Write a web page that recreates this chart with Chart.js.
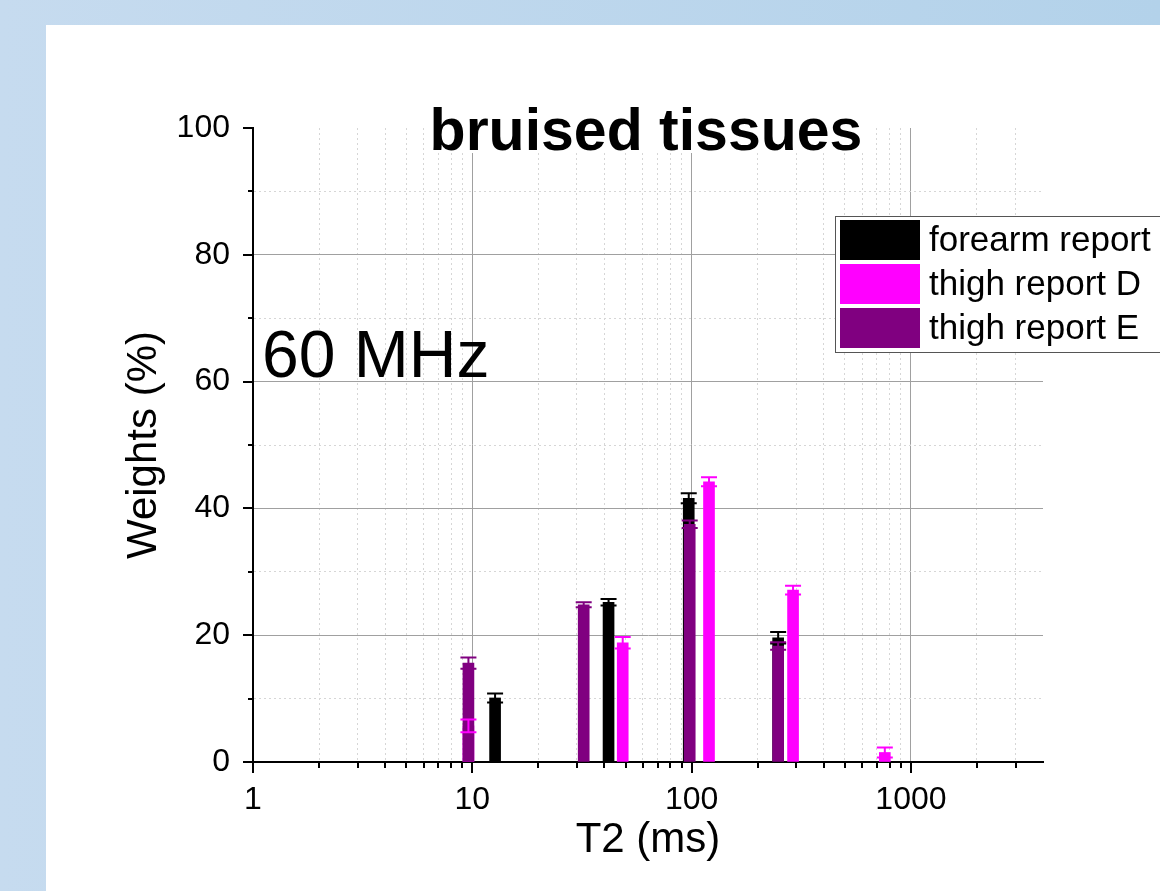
<!DOCTYPE html>
<html><head><meta charset="utf-8">
<script src="https://cdn.jsdelivr.net/npm/chart.js@4.4.1/dist/chart.umd.min.js"></script>
<style>html,body{margin:0;padding:0;background:#fff;overflow:hidden}canvas{display:block}</style>
</head><body>
<canvas id="c" width="1160" height="891" style="width:1160px;height:891px"></canvas>
<script>
const chartTitle = 'bruised tissues';
const annotationText = '60 MHz';
const xAxisTitle = 'T2 (ms)';
const yAxisTitle = 'Weights (%)';
const seriesNames = ['forearm report', 'thigh report D', 'thigh report E'];
const seriesColors = ['#000000', '#ff00ff', '#800080'];

const forearmT2 = [12.7, 41.8, 97, 248];
const forearmWeight = [10.1, 25.2, 41.6, 19.6];
const forearmErr = [0.7, 0.5, 0.8, 0.9];

const thighDT2 = [9.6, 48.5, 120, 290, 760];
const thighDWeight = [5.7, 18.8, 44.2, 27.1, 1.5];
const thighDErr = [1.0, 0.9, 0.7, 0.7, 0.8];

const thighET2 = [9.6, 32.2, 98, 248];
const thighEWeight = [15.6, 24.8, 37.5, 18.3];
const thighEErr = [0.9, 0.4, 0.6, 0.6];

const xMajorTicks = [1, 10, 100, 1000];
const xMinorMultipliers = [2, 3, 4, 5, 6, 7, 8, 9];
const yTicks = [0, 20, 40, 60, 80, 100];
const yMinorTicks = [10, 30, 50, 70, 90];
const xMin = 1, xMax = 4000, yMin = 0, yMax = 100;

const FONT = "'Liberation Sans', Arial, sans-serif";
const xTickValues = [];
xMajorTicks.forEach(m => { xTickValues.push(m); xMinorMultipliers.forEach(k => { if (m * k < xMax) xTickValues.push(m * k); }); });
xTickValues.sort((a, b) => a - b);
const yTickValues = yTicks.concat(yMinorTicks).sort((a, b) => a - b);

function pts(xs, ys) { return xs.map((x, i) => ({ x: x, y: ys[i] })); }

const bgPlugin = {
  id: 'bg',
  beforeDraw(chart) {
    const ctx = chart.ctx, W = chart.width, H = chart.height;
    const g = ctx.createLinearGradient(0, 0, W, 0);
    g.addColorStop(0, '#c6dbef');
    g.addColorStop(1, '#b3d2ea');
    ctx.save();
    ctx.fillStyle = g; ctx.fillRect(0, 0, W, H);
    ctx.fillStyle = '#ffffff'; ctx.fillRect(46, 25, W - 46, H - 25);
    ctx.restore();
  }
};

const ticksPlugin = {
  id: 'tickmarks',
  afterDraw(chart) {
    const ctx = chart.ctx, a = chart.chartArea, xs = chart.scales.x, ys = chart.scales.y;
    ctx.save();
    ctx.strokeStyle = '#000'; ctx.lineWidth = 2;
    xTickValues.forEach(v => {
      const px = Math.round(xs.getPixelForValue(v));
      const len = xMajorTicks.includes(v) ? 11 : 6;
      ctx.beginPath(); ctx.moveTo(px, a.bottom); ctx.lineTo(px, a.bottom + len); ctx.stroke();
    });
    yTickValues.forEach(v => {
      const py = Math.round(ys.getPixelForValue(v));
      const len = yTicks.includes(v) ? 10 : 5;
      ctx.beginPath(); ctx.moveTo(a.left - len, py); ctx.lineTo(a.left, py); ctx.stroke();
    });
    ctx.restore();
  }
};

const errPlugin = {
  id: 'errbars',
  afterDatasetsDraw(chart) {
    const ctx = chart.ctx, xs = chart.scales.x, ys = chart.scales.y;
    ctx.save();
    chart.data.datasets.forEach(ds => {
      ctx.strokeStyle = ds.backgroundColor; ctx.lineWidth = 2;
      ds.data.forEach((p, i) => {
        const e = ds.err[i];
        const px = xs.getPixelForValue(p.x);
        const t = ys.getPixelForValue(p.y + e), b = ys.getPixelForValue(p.y - e);
        ctx.beginPath();
        ctx.moveTo(px, t); ctx.lineTo(px, b);
        ctx.moveTo(px - 8, t); ctx.lineTo(px + 8, t);
        ctx.moveTo(px - 8, b); ctx.lineTo(px + 8, b);
        ctx.stroke();
      });
    });
    ctx.restore();
  }
};

const textPlugin = {
  id: 'texts',
  afterDraw(chart) {
    const ctx = chart.ctx;
    ctx.save();
    ctx.fillStyle = '#ffffff';
    ctx.fillRect(426, 104, 440, 49);
    ctx.fillStyle = '#000';
    ctx.font = 'bold 59px ' + FONT;
    ctx.textAlign = 'center'; ctx.textBaseline = 'alphabetic';
    ctx.fillText(chartTitle, 646, 150);
    ctx.font = '66px ' + FONT;
    ctx.textAlign = 'left';
    ctx.fillText(annotationText, 262, 377);
    // legend
    ctx.fillStyle = '#ffffff';
    ctx.fillRect(835.5, 216.5, 340, 136);
    ctx.strokeStyle = '#555'; ctx.lineWidth = 1;
    ctx.strokeRect(835.5, 216.5, 340, 136);
    const rows = [220, 264, 308];
    ctx.font = '35px ' + FONT;
    ctx.textBaseline = 'middle';
    chart.data.datasets.forEach((ds, i) => {
      ctx.fillStyle = ds.backgroundColor;
      ctx.fillRect(840, rows[i], 80, 40);
      ctx.fillStyle = '#000';
      ctx.fillText(ds.label, 929, rows[i] + 21);
    });
    ctx.restore();
  }
};

function gridColor(isMajor, isEdge) {
  if (isEdge) return 'rgba(0,0,0,0)';
  return isMajor ? '#a0a0a0' : '#d6d6d6';
}

new Chart(document.getElementById('c'), {
  type: 'bar',
  data: {
    datasets: [
      { label: seriesNames[0], data: pts(forearmT2, forearmWeight), err: forearmErr, backgroundColor: seriesColors[0], order: 3 },
      { label: seriesNames[1], data: pts(thighDT2, thighDWeight), err: thighDErr, backgroundColor: seriesColors[1], order: 2 },
      { label: seriesNames[2], data: pts(thighET2, thighEWeight), err: thighEErr, backgroundColor: seriesColors[2], order: 1 }
    ]
  },
  options: {
    responsive: false, animation: false, devicePixelRatio: 1,
    layout: { padding: { left: 0, top: 128, right: 117, bottom: 0 } },
    plugins: { legend: { display: false }, tooltip: { enabled: false }, title: { display: false } },
    datasets: { bar: { grouped: false, barThickness: 11, borderWidth: 0 } },
    scales: {
      x: {
        type: 'logarithmic', min: xMin, max: xMax, offset: false,
        afterBuildTicks: s => { s.ticks = xTickValues.map(v => ({ value: v, major: xMajorTicks.includes(v) })); },
        afterFit: s => { s.height = 129; },
        ticks: { autoSkip: false, maxRotation: 0, minRotation: 0, padding: 19, color: '#000', font: { family: FONT, size: 32 },
          callback: v => xMajorTicks.includes(v) ? String(v) : '' },
        grid: { drawTicks: false, offset: false, lineWidth: 1,
          color: c => c.tick ? gridColor(xMajorTicks.includes(c.tick.value), c.tick.value === xMin) : '#a0a0a0' },
        border: { display: true, color: '#000', width: 2,
          dash: c => (c.tick && !xMajorTicks.includes(c.tick.value)) ? [2, 3] : [] },
        title: { display: true, text: xAxisTitle, color: '#000', font: { family: FONT, size: 42 }, padding: { top: 0, bottom: 25 } }
      },
      y: {
        type: 'linear', min: yMin, max: yMax,
        afterBuildTicks: s => { s.ticks = yTickValues.map(v => ({ value: v })); },
        afterFit: s => { s.width = 253; },
        ticks: { autoSkip: false, padding: 23, color: '#000', font: { family: FONT, size: 32 },
          callback: v => yTicks.includes(v) ? String(v) : '' },
        grid: { drawTicks: false, lineWidth: 1,
          color: c => c.tick ? gridColor(yTicks.includes(c.tick.value), c.tick.value === yMin || c.tick.value === yMax) : '#a0a0a0' },
        border: { display: true, color: '#000', width: 2,
          dash: c => (c.tick && !yTicks.includes(c.tick.value)) ? [2, 3] : [] },
        title: { display: true, text: yAxisTitle, color: '#000', font: { family: FONT, size: 42 }, padding: { top: 119, bottom: 0 } }
      }
    }
  },
  plugins: [bgPlugin, errPlugin, ticksPlugin, textPlugin]
});
</script>
</body></html>
